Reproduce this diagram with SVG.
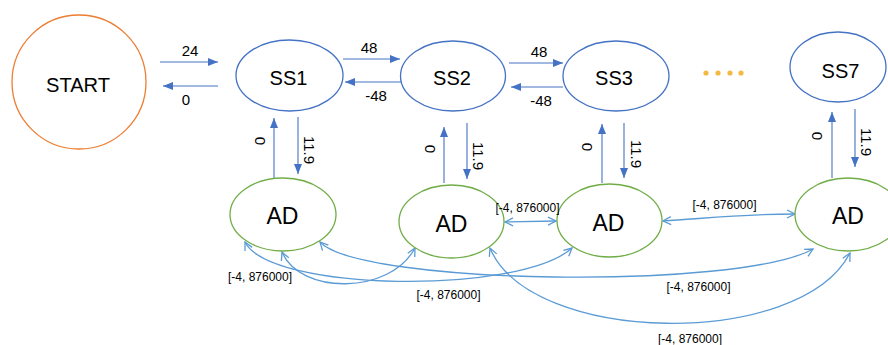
<svg xmlns="http://www.w3.org/2000/svg" width="888" height="345" viewBox="0 0 888 345">
<style>
text{font-family:"Liberation Sans",Arial,sans-serif;fill:#000}
.node{font-size:20px;text-anchor:middle}
.ad{font-size:23px;text-anchor:middle}
.el{font-size:15px;text-anchor:middle}
.rl{font-size:15px;text-anchor:middle;dominant-baseline:central}
.cl{font-size:12px;text-anchor:middle}
.ss{fill:#fff;stroke:#4472C4;stroke-width:1.3}
.adn{fill:#fff;stroke:#70AD47;stroke-width:1.3}
.arr{fill:none;stroke:#4472C4;stroke-width:1.1;marker-end:url(#tri)}
.cur{fill:none;stroke:#5B9BD5;stroke-width:1.3;marker-start:url(#vee);marker-end:url(#vee)}
</style>
<defs>
<marker id="tri" viewBox="0 0 10 8" refX="10" refY="4" markerWidth="10" markerHeight="8" markerUnits="userSpaceOnUse" orient="auto">
<path d="M0,0 L10,4 L0,8 Z" fill="#4472C4"/>
</marker>
<marker id="vee" viewBox="0 0 10 10" refX="9" refY="5" markerWidth="10" markerHeight="10" markerUnits="userSpaceOnUse" orient="auto-start-reverse">
<path d="M1,1 L9,5 L1,9" fill="none" stroke="#5B9BD5" stroke-width="1.3"/>
</marker>
</defs>
<rect width="888" height="345" fill="#fff"/>

<g id="connectors">
<path class="arr" d="M160,62 L218,62"/>
<path class="arr" d="M218,86 L163,86"/>
<path class="arr" d="M343,59 L400,59"/>
<path class="arr" d="M402,82 L345,82"/>
<path class="arr" d="M509,63 L563,63"/>
<path class="arr" d="M563,87 L511,87"/>
<path class="arr" d="M274,178 L274,118"/>
<path class="arr" d="M298,117 L298,174"/>
<path class="arr" d="M444,183 L444,127"/>
<path class="arr" d="M467,123 L467,179"/>
<path class="arr" d="M602,183 L602,124"/>
<path class="arr" d="M624,123 L624,178"/>
<path class="arr" d="M832,178 L832,112"/>
<path class="arr" d="M855,109 L855,167"/>

<path class="cur" d="M505,222 L556,221"/>
<path class="cur" d="M663,221 C700,219 740,214 795,214"/>
<path class="cur" d="M282,252 C300,295 390,295 415,248"/>
<path class="cur" d="M245,242 C270,292 520,295 572,248"/>
<path class="cur" d="M320,242 C360,285 740,290 813,249"/>
<path class="cur" d="M490,248 C530,345 800,350 850,253"/>
</g>

<g id="start">
<circle cx="79" cy="82" r="67" fill="#fff" stroke="#ED7D31" stroke-width="1.3"/>
<text class="node" x="78" y="92" font-size="23" textLength="64" lengthAdjust="spacingAndGlyphs">START</text>
</g>
<g id="ss1">
<ellipse class="ss" cx="289.5" cy="75.5" rx="53.5" ry="35.5"/>
<text class="node" x="288.5" y="85">SS1</text>
</g>
<g id="ss2">
<ellipse class="ss" cx="453" cy="76" rx="52.5" ry="35"/>
<text class="node" x="452" y="85">SS2</text>
</g>
<g id="ss3">
<ellipse class="ss" cx="616" cy="76" rx="53" ry="35"/>
<text class="node" x="614" y="85">SS3</text>
</g>
<g id="dots" fill="#F4B942">
<circle cx="706" cy="73" r="2.6"/>
<circle cx="718" cy="73" r="2.6"/>
<circle cx="730" cy="73" r="2.6"/>
<circle cx="741" cy="73" r="2.6"/>
</g>
<g id="ss7">
<ellipse class="ss" cx="838" cy="67" rx="48" ry="35"/>
<text class="node" x="840.5" y="78">SS7</text>
</g>
<g id="ad1">
<ellipse class="adn" cx="283" cy="214.5" rx="53" ry="36.5"/>
<text class="ad" x="282.5" y="224">AD</text>
</g>
<g id="ad2">
<ellipse class="adn" cx="451.5" cy="221.5" rx="52.5" ry="36.5"/>
<text class="ad" x="451.5" y="232">AD</text>
</g>
<g id="ad3">
<ellipse class="adn" cx="609.5" cy="220.5" rx="52.5" ry="36.5"/>
<text class="ad" x="608.5" y="231">AD</text>
</g>
<g id="ad4">
<ellipse class="adn" cx="848" cy="214.5" rx="53" ry="36.5"/>
<text class="ad" x="848" y="224">AD</text>
</g>

<g id="connector-labels">
<text class="el" x="190" y="56">24</text>
<text class="el" x="186" y="105">0</text>
<text class="el" x="369" y="53">48</text>
<text class="el" x="376" y="101">-48</text>
<text class="el" x="539" y="57">48</text>
<text class="el" x="541" y="106">-48</text>
<text class="rl" transform="translate(260,141) rotate(90)">0</text>
<text class="rl" transform="translate(309.5,150) rotate(90)">11.9</text>
<text class="rl" transform="translate(430,149) rotate(90)">0</text>
<text class="rl" transform="translate(478,156) rotate(90)">11.9</text>
<text class="rl" transform="translate(587,147) rotate(90)">0</text>
<text class="rl" transform="translate(636,154) rotate(90)">11.9</text>
<text class="rl" transform="translate(817,136) rotate(90)">0</text>
<text class="rl" transform="translate(866,142) rotate(90)">11.9</text>
<text class="cl" x="260" y="281">[-4, 876000]</text>
<text class="cl" x="448.5" y="299">[-4, 876000]</text>
<text class="cl" x="698.5" y="291">[-4, 876000]</text>
<text class="cl" x="690" y="343">[-4, 876000]</text>
<text class="cl" x="527.5" y="212">[-4, 876000]</text>
<text class="cl" x="724.5" y="209">[-4, 876000]</text>
</g>
</svg>
